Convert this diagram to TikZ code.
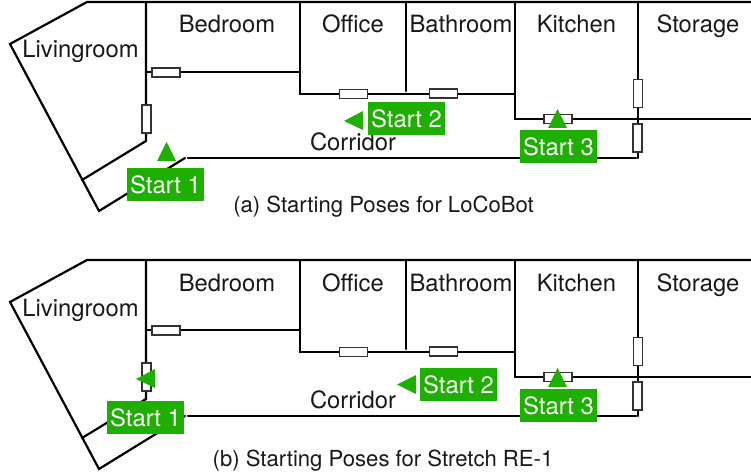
\documentclass[tikz,border=0pt]{standalone}
\usepackage{fontspec}
\setmainfont{TeX Gyre Heros}
\definecolor{startgreen}{RGB}{31,175,0}
\tikzset{
  wall/.style={draw=black,line width=2.2pt,line cap=round,line join=miter},
  door/.style={draw=black!80,line width=1.2pt,fill=white,inner sep=0pt,minimum width=28pt,minimum height=9pt,outer sep=0pt},
  doorv/.style={door,minimum width=9pt,minimum height=28pt},
  room/.style={font=\fontsize{23.8pt}{25pt}\selectfont,anchor=base,inner sep=0pt,text=black!90},
  caption/.style={font=\fontsize{22.1pt}{24pt}\selectfont,anchor=base,inner sep=0pt,text=black!90},
  startbox/.style={fill=startgreen,text=white,font=\fontsize{23.8pt}{25pt}\selectfont,inner sep=0pt,minimum width=77pt,minimum height=33pt},
  pose/.style={fill=startgreen,draw=none},
  plan/.pic={
    \coordinate (-nw) at (10,44);
    \coordinate (-n) at (87,2);
    \coordinate (-ne) at (751,2);
    \coordinate (-sw) at (99,211);
    \coordinate (-ls) at (82,180);
    \coordinate (-lc) at (146,141);
    \coordinate (-ce) at (185,158);
    \coordinate (-cs) at (188,158);
    \coordinate (-ke) at (638,158);
    \draw[wall] (-ne) -- (-n) -- (-nw) -- (-sw) -- (-ce);
    \draw[wall] (-ls) -- (-lc) -- (146,2);
    \draw[wall] (146,72) -- (299,72);
    \draw[wall] (300,2) -- (300,94) -- (515,94);
    \draw[wall] (406,2) -- (406,91);
    \draw[wall] (515,2) -- (515,119) -- (751,119);
    \draw[wall] (638,2) -- (-ke);
    \draw[wall] (-cs) -- (636,158);
    \node[door] (-d1) at (166,72.5) {};
    \node[doorv] (-d2) at (146.5,119) {};
    \node[door] (-d3) at (353.5,94) {};
    \node[door] (-d4) at (443.5,93.5) {};
    \node[door] (-d5) at (558,119) {};
    \node[doorv] (-d6) at (638,93.5) {};
    \node[doorv] (-d7) at (637.5,138) {};
    \node[room] (-liv) at (80.5,58) {Livingroom};
    \node[room] (-bed) at (227,33) {Bedroom};
    \node[room] (-off) at (353,33) {Office};
    \node[room] (-bat) at (461,33) {Bathroom};
    \node[room] (-kit) at (576.5,33) {Kitchen};
    \node[room] (-sto) at (698,33) {Storage};
    \node[room] (-cor) at (353,150) {Corridor};
  }
}
\begin{document}
\begin{tikzpicture}[x=1pt,y=-1pt]
\useasboundingbox (0,0) rectangle (751,473);
\pic (a) at (0,0) {plan};
\pic (b) at (0,258) {plan};
% (a)
\node[startbox] (a1) at (165.5,184.5) {Start 1};
\node[startbox] (a2) at (406.5,118.5) {Start 2};
\node[startbox] (a3) at (558.5,146.5) {Start 3};
\fill[pose] (157,161) -- (176,161) -- (166.5,142) -- cycle;
\fill[pose] (344,121) -- (363,111) -- (363,130) -- cycle;
\fill[pose] (548,128) -- (567,128) -- (557.5,109) -- cycle;
\node[caption] (capa) at (383.5,212) {(a) Starting Poses for LoCoBot};
% (b)
\node[startbox] (b1) at (145.5,417.5) {Start 1};
\node[startbox] (b2) at (458.5,384.5) {Start 2};
\node[startbox] (b3) at (558.5,405.5) {Start 3};
\fill[pose] (136,379) -- (155,369) -- (155,388) -- cycle;
\fill[pose] (397,384.5) -- (416,375) -- (416,394) -- cycle;
\fill[pose] (548,387) -- (567,387) -- (557.5,368) -- cycle;
\node[caption] (capb) at (383,466) {(b) Starting Poses for Stretch RE-1};
\end{tikzpicture}
\end{document}
